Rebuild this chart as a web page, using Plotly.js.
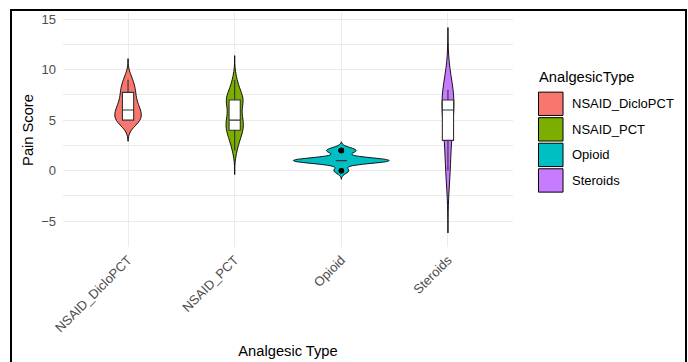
<!DOCTYPE html>
<html><head><meta charset="utf-8">
<script src="https://cdn.plot.ly/plotly-3.0.1.min.js"></script>
<style>
html,body{margin:0;padding:0;background:#fff;}
#wrap{position:relative;width:688px;height:362px;overflow:hidden;}
#chart{position:absolute;left:0;top:0;width:688px;height:362px;}
#frame{position:absolute;left:10px;top:9px;width:673px;height:420px;border:2px solid #000;pointer-events:none;}
</style></head><body>
<div id="wrap"><div id="chart"></div><div id="frame"></div></div>
<script>
// ---- data ----
const categories = ['NSAID_DicloPCT', 'NSAID_PCT', 'Opioid', 'Steroids'];
const fillColors = ['#F8766D', '#7CAE00', '#00BFC4', '#C77CFF'];
const painDicloPCT = [5,5,5,5,5,5,6,6,6,6,6,7,7,7,8,8,8,9,9];
const painPCT = [2,2,3,3,3,3,4,4,4,4,4,4,4,4,5,5,5,5,5,5,5,5,6,6,6,6,7,7,7,7,7,7,7,7,7,7,8,8,8,8,9,9];
const painOpioid = [0,0,1,1,1,1,1,1,1,1,1,1,1,1,1,2,2,2,2];
const painSteroids = [0,3,5,7,7,8];
const yTickVals = [-5, 0, 5, 10, 15];
const legendTitle = 'AnalgesicType';
const xTitle = 'Analgesic Type';
const yTitle = 'Pain Score';

const groups = [painDicloPCT, painPCT, painOpioid, painSteroids];
const bwAdjust = [1, 1, 1, 1.25];   // smoothing adjustment per violin

// ---- helpers (R-like statistics) ----
function q7(sorted, p){ const h=(sorted.length-1)*p, lo=Math.floor(h), hi=Math.ceil(h); return sorted[lo]+(h-lo)*(sorted[hi]-sorted[lo]); }
function nrd0(x){
  const n=x.length, m=x.reduce((a,b)=>a+b,0)/n;
  const sd=Math.sqrt(x.reduce((a,b)=>a+(b-m)*(b-m),0)/(n-1));
  const s=x.slice().sort((a,b)=>a-b);
  const iqr=q7(s,0.75)-q7(s,0.25);
  let lo=Math.min(sd, iqr/1.34);
  if(!lo) lo = sd || Math.abs(x[0]) || 1;
  return 0.9*lo*Math.pow(n,-0.2);
}
function kdeMax(x,bw,a,b){
  let best=0; const N=600;
  for(let k=0;k<N;k++){
    const v=a+(b-a)*k/(N-1); let d=0;
    for(const xi of x){ const z=(v-xi)/bw; d+=Math.exp(-0.5*z*z); }
    d/= (x.length*bw*Math.sqrt(2*Math.PI));
    if(d>best) best=d;
  }
  return best;
}

const info = groups.map((g,i)=>{
  const bw=nrd0(g)*bwAdjust[i], mn=Math.min(...g), mx=Math.max(...g);
  const span=[mn-3*bw, mx+3*bw];
  return {bw, span, peak:kdeMax(g,bw,span[0],span[1])};
});
const globalPeak = Math.max(...info.map(o=>o.peak));

const traces = [];
groups.forEach((g,i)=>{
  const xs = g.map(()=>categories[i]);
  traces.push({
    type:'violin', x:xs, y:g, name:categories[i],
    bandwidth:info[i].bw, spanmode:'manual', span:info[i].span,
    width:0.9*info[i].peak/globalPeak, scalemode:'width',
    fillcolor:fillColors[i], opacity:1,
    line:{color:'#000000', width:0.9},
    points:false, box:{visible:false}, meanline:{visible:false},
    hoverinfo:'skip', showlegend:false
  });
});
groups.forEach((g,i)=>{
  const xs = g.map(()=>categories[i]);
  traces.push({
    type:'box', x:xs, y:g, name:categories[i],
    width:0.105, fillcolor:'#FFFFFF',
    line:{color:'#333333', width:1.1}, whiskerwidth:0,
    boxpoints:'outliers', pointpos:0, jitter:0,
    marker:{color:'#000000', size:5.5, line:{width:0}},
    hoverinfo:'skip', showlegend:false
  });
});

// ---- manual ggplot-style legend ----
const PL=63, PW=450, PB=247.5, PH=234.5;
const px2x = px => (px-PL)/PW;
const px2y = py => (PB-py)/PH;
const shapes=[], annotations=[];
annotations.push({xref:'paper', yref:'paper', x:px2x(537), y:px2y(77), text:legendTitle, showarrow:false,
  xanchor:'left', yanchor:'middle', font:{size:14.7, color:'#000'}});
categories.forEach((c,i)=>{
  const top=92.3+i*25.6, h=23.4;
  shapes.push({type:'rect', xref:'paper', yref:'paper', x0:px2x(538.5), x1:px2x(563), y0:px2y(top+h), y1:px2y(top),
    fillcolor:fillColors[i], line:{color:'#000', width:1}});
  annotations.push({xref:'paper', yref:'paper', x:px2x(570), y:px2y(top+h/2), text:c, showarrow:false,
    xanchor:'left', yanchor:'middle', font:{size:13, color:'#000'}});
});

const layout = {
  width:688, height:362,
  margin:{l:PL, r:688-PL-PW, t:13, b:362-PB},
  paper_bgcolor:'rgba(0,0,0,0)', plot_bgcolor:'#FFFFFF',
  font:{family:'"Liberation Sans", Arial, sans-serif', color:'#000'},
  showlegend:false, violinmode:'overlay', boxmode:'overlay',
  xaxis:{type:'category', categoryorder:'array', categoryarray:categories, range:[-0.61,3.61],
    showgrid:true, gridcolor:'#EBEBEB', gridwidth:1, zeroline:false, showline:false, ticks:'',
    tickangle:-45, tickfont:{size:13, color:'#4D4D4D'}, automargin:false, ticklabelstandoff:2,
    title:{text:xTitle, font:{size:14.7, color:'#000'}, standoff:11}},
  yaxis:{range:[-7.55,15.6], tickvals:yTickVals, showgrid:true, gridcolor:'#EBEBEB', gridwidth:1,
    minor:{dtick:2.5, tick0:0, showgrid:true, gridcolor:'#EBEBEB', gridwidth:1},
    zeroline:false, showline:false, ticks:'', tickfont:{size:13, color:'#4D4D4D'}, automargin:false,
    ticklabelstandoff:6,
    title:{text:yTitle, font:{size:14.7, color:'#000'}, standoff:4}},
  shapes, annotations
};
Plotly.newPlot('chart', traces, layout, {displayModeBar:false, staticPlot:true});
</script>
</body></html>
